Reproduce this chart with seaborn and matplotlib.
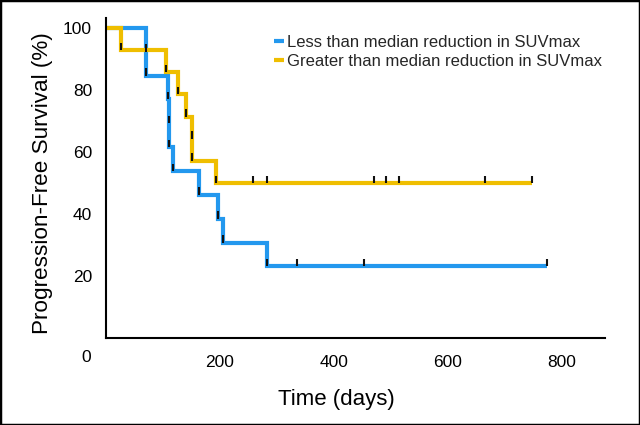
import pandas as pd
import seaborn as sns
import matplotlib.pyplot as plt
from matplotlib.patches import Rectangle

plt.switch_backend("Agg")

# Values (days)
group_names = ["Less than median reduction in SUVmax",
               "Greater than median reduction in SUVmax"]
group_colors = ["#2398EE", "#EFBE00"]

less_event_days = [70, 70, 108, 110, 111, 117, 163, 197, 205, 282]
less_censor_days = [335, 453, 774]
greater_event_days = [27, 106, 127, 141, 151, 151, 193]
greater_censor_days = [258, 283, 470, 492, 515, 666, 748]

x_ticks = [200, 400, 600, 800]
y_ticks = [20, 40, 60, 80, 100]


def km_steps(event_days, censor_days):
    """Kaplan-Meier step points plus one tick mark per subject."""
    subjects = sorted([(d, 1) for d in event_days] + [(d, 0) for d in censor_days],
                      key=lambda s: (s[0], -s[1]))
    at_risk = len(subjects)
    surv = 100.0
    xs, ys, marks = [0], [surv], []
    for day, event in subjects:
        if event:
            surv *= 1 - 1 / at_risk
            xs.append(day)
            ys.append(surv)
        marks.append((day, surv))
        at_risk -= 1
    xs.append(subjects[-1][0])
    ys.append(surv)
    return xs, ys, marks


sns.set_theme(style="white")
plt.rcParams["font.family"] = ["Liberation Sans", "DejaVu Sans"]

frames, all_marks = [], []
for name, ev, cen in [(group_names[0], less_event_days, less_censor_days),
                      (group_names[1], greater_event_days, greater_censor_days)]:
    xs, ys, marks = km_steps(ev, cen)
    frames.append(pd.DataFrame({"day": xs, "pfs": ys, "group": name}))
    all_marks += marks
df = pd.concat(frames, ignore_index=True)

fig = plt.figure(figsize=(6.4, 4.25), dpi=100)
ax = fig.add_axes([106 / 640, 87 / 425, 499 / 640, 320 / 425])

sns.lineplot(data=df, x="day", y="pfs", hue="group", hue_order=group_names,
             palette=group_colors, estimator=None, sort=False,
             drawstyle="steps-post", linewidth=3, legend=False, ax=ax,
             solid_joinstyle="miter", solid_capstyle="butt")

# censor / event tick marks
mark_x = [m[0] for m in all_marks]
mark_y = [m[1] for m in all_marks]
ax.vlines(mark_x, mark_y, [y + 2.4 for y in mark_y], color="#111111",
          linewidth=1.5, zorder=5)

# legend
handles = [plt.Line2D([], [], color=c, linewidth=3, solid_capstyle="butt")
           for c in group_colors]
ax.legend(handles, group_names, loc="upper left", bbox_to_anchor=(0.337, 0.947),
          frameon=False, fontsize=12, handlelength=0.6, handletextpad=0.2,
          labelspacing=0.25, borderpad=0, borderaxespad=0)

ax.set_xlim(0, 876)
ax.set_ylim(0, 103.2)
ax.set_xticks(x_ticks)
ax.set_yticks(y_ticks)
ax.tick_params(axis="both", direction="out", length=6, width=1.4,
               color="black", labelsize=12.5, labelcolor="black", pad=4)
ax.tick_params(axis="x", pad=6)
for side in ["top", "right"]:
    ax.spines[side].set_visible(False)
for side in ["left", "bottom"]:
    ax.spines[side].set_linewidth(1.5)
    ax.spines[side].set_color("black")

ax.annotate("0", xy=(0, 0), xytext=(-14, -14), textcoords="offset points",
            ha="center", va="center", fontsize=12.5, color="black")

ax.set_xlabel("Time (days)", fontsize=16, color="black")
ax.set_ylabel("Progression-Free Survival (%)", fontsize=16.2, color="black")
ax.xaxis.set_label_coords(0.462, -0.16)
ax.yaxis.set_label_coords(-0.106, 0.485)

fig.add_artist(Rectangle((0, 0), 1, 1, transform=fig.transFigure,
                         fill=False, edgecolor="black", linewidth=2.5))

fig.savefig("out.png", dpi=100)
